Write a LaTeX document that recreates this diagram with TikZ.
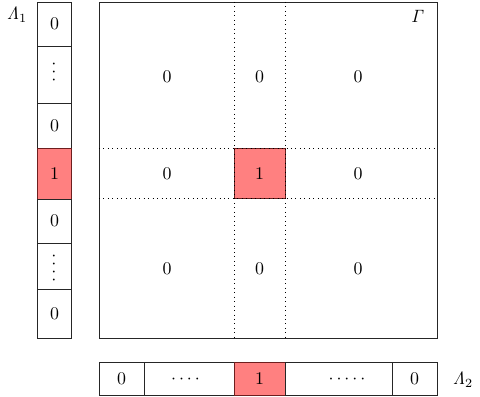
\documentclass[tikz,border=0pt]{standalone}
\usetikzlibrary{calc}
\definecolor{hot}{RGB}{255,128,128}
\definecolor{hotedge}{RGB}{110,30,30}
\begin{document}
\begin{tikzpicture}[x=0.56pt,y=-0.56pt,
  box/.style 2 args={draw=black!85,line width=0.5pt,inner sep=0pt,outer sep=0pt,
    minimum width=#1*0.56pt,minimum height=#2*0.56pt},
  redbox/.style={fill=hot,draw=hotedge},
  grid/.style={dotted,line width=0.5pt}]
\useasboundingbox (0,0) rectangle (480,396);
% main matrix
\node[box={338}{336}] (G) at (268,170) {};
\node[box={51}{50},redbox] (R) at (259.5,173.5) {1};
\coordinate (v1t) at (234,2); \coordinate (v1b) at (234,338);
\coordinate (v2t) at (285,2); \coordinate (v2b) at (285,338);
\coordinate (h1l) at (99,148.5); \coordinate (h1r) at (437,148.5);
\coordinate (h2l) at (99,198.5); \coordinate (h2r) at (437,198.5);
\draw[grid] (v1t) -- (v1b);
\draw[grid] (v2t) -- (v2b);
\draw[grid] (h1l) -- (h1r);
\draw[grid] (h2l) -- (h2r);
\node (g11) at (167,77) {0};
\node (g12) at (259.5,77) {0};
\node (g13) at (358,77) {0};
\node (g21) at (167,173.5) {0};
\node (g23) at (358,173.5) {0};
\node (g31) at (167,269) {0};
\node (g32) at (259.5,269) {0};
\node (g33) at (358,269) {0};
\node (Gam) at (418,16) {$\mathit{\Gamma}$};
% left column
\node[box={34.5}{44}] (L1) at (54.5,24) {0};
\node[box={34.5}{57}] (L2) at (54.5,74.5) {};
\node[rotate=90] (L2d) at (54.5,72) {$\cdotp\cdotp\cdotp$};
\node[box={34.5}{45}] (L3) at (54.5,125.5) {0};
\node[box={34.5}{51},redbox] (L4) at (54.5,173.5) {1};
\node[box={34.5}{44}] (L5) at (54.5,221) {0};
\node[box={34.5}{46}] (L6) at (54.5,266) {};
\node[rotate=90] (L6d) at (54.5,268) {$\cdotp\cdotp\cdotp\cdotp$};
\node[box={34.5}{49}] (L7) at (54.5,313.5) {0};
\node (Lam1) at (17,15) {$\mathit{\Lambda}_1$};
% bottom row
\node[box={45}{33}] (B1) at (121.5,378.5) {0};
\node[box={90}{33}] (B2) at (189,378.5) {};
\node (B2d) at (185.5,380) {$\cdotp\cdotp\cdotp\cdotp$};
\node[box={51}{33},redbox] (B3) at (259.5,378.5) {1};
\node[box={107}{33}] (B4) at (338.5,378.5) {};
\node (B4d) at (347,380) {$\cdotp\cdotp\cdotp\cdotp\cdotp$};
\node[box={45}{33}] (B5) at (414.5,378.5) {0};
\node (Lam2) at (463,380) {$\mathit{\Lambda}_2$};
\end{tikzpicture}
\end{document}
